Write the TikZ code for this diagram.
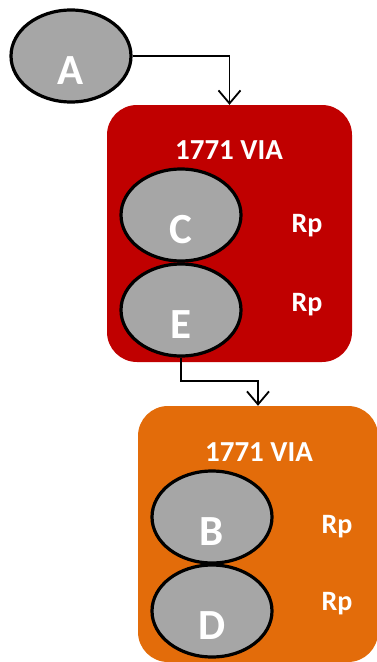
\documentclass[tikz,border=0pt]{standalone}
\usepackage{fontspec}
\setmainfont{Carlito}
\usepackage{tikz}
\usetikzlibrary{shapes.geometric, arrows.meta, positioning}
\usepackage{xcolor}
\definecolor{viared}{RGB}{192,0,0}
\definecolor{viaorange}{RGB}{227,108,10}
\definecolor{cellgray}{RGB}{166,166,166}

\tikzset{
  cell/.style = {ellipse, draw=black, line width=3.2pt, fill=cellgray, minimum width=120pt, minimum height=92pt, inner sep=0pt,
                 text=white, font=\bfseries\fontsize{43}{43}\selectfont, text height=56pt, text depth=0pt},
  via/.style = {rectangle, rounded corners=30pt, inner sep=0pt},
  tag/.style = {text=white, font=\bfseries\fontsize{28}{28}\selectfont, anchor=base, inner sep=0pt},
  link/.style = {line width=1.8pt, -{Straight Barb[length=13pt, width=22pt, line width=1.8pt]}}
}

\begin{document}
\begin{tikzpicture}
[x = 1pt, y = -1pt]
\useasboundingbox (0,0) rectangle (377,662);

% the two via blocks
\node[via, fill=viared, minimum width=245pt, minimum height=257pt] (via1) at (229.5,233.5) {};
\node[via, fill=viaorange, minimum width=240pt, minimum height=256pt] (via2) at (258,534) {};

\node[tag, font=\bfseries\fontsize{29}{29}\selectfont] (t1) at (229,159) {1771 VIA};
\node[tag, font=\bfseries\fontsize{29}{29}\selectfont] (t2) at (259,461) {1771 VIA};

% cells
\node[cell] (nA) at (71,56) {A};
\node[cell] (nC) at (181,215) {C};
\node[cell] (nE) at (181,310) {E};
\node[cell] (nB) at (212,517) {B};
\node[cell] (nD) at (212,611) {D};

\node[tag] (r1) at (307,232) {Rp};
\node[tag] (r2) at (307,311) {Rp};
\node[tag] (r3) at (337,533) {Rp};
\node[tag] (r4) at (337,610) {Rp};

% connections
\draw[link] (nA.east) -| (via1.north);
\coordinate (bend) at (181,381);
\draw[link] (nE.south) -- (bend) -| (via2.north);

\end{tikzpicture}
\end{document}
